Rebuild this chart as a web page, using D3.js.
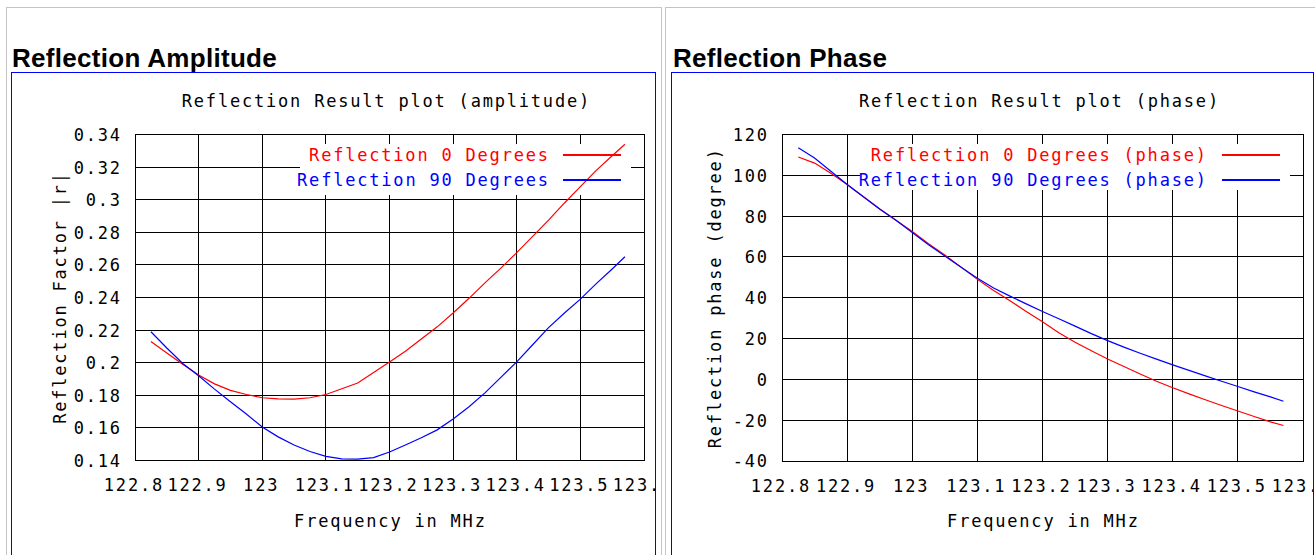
<!DOCTYPE html>
<html>
<head>
<meta charset="utf-8">
<script src="https://cdn.jsdelivr.net/npm/d3@7/dist/d3.min.js"></script>
<style>
  html, body { margin: 0; padding: 0; background: #fff; }
  svg { display: block; }
  .mono { font-family: "DejaVu Sans Mono", monospace; font-size: 17px; letter-spacing: 1.8px; fill: #000; }
  .heading { font-family: "Liberation Sans", Arial, sans-serif; font-weight: bold; font-size: 26px; letter-spacing: 0.3px; fill: #000; }
</style>
</head>
<body>
<svg id="chart" width="1315" height="555"></svg>
<script>
// ---------------- data ----------------
const freq = [122.825, 122.85, 122.875, 122.9, 122.925, 122.95, 122.975, 123.0, 123.025, 123.05,
              123.075, 123.1, 123.125, 123.15, 123.175, 123.2, 123.225, 123.25, 123.275, 123.3,
              123.325, 123.35, 123.375, 123.4, 123.425, 123.45, 123.475, 123.5, 123.525, 123.55, 123.57];

const amp0 = [0.213, 0.206, 0.199, 0.1925, 0.187, 0.183, 0.1805, 0.1785, 0.1778, 0.1776,
              0.1785, 0.1805, 0.184, 0.1875, 0.194, 0.2005, 0.207, 0.2145, 0.222, 0.2305,
              0.2395, 0.249, 0.258, 0.2675, 0.2775, 0.2875, 0.298, 0.308, 0.318, 0.327, 0.334];

const amp90 = [0.219, 0.209, 0.1995, 0.192, 0.1838, 0.176, 0.1685, 0.1605, 0.1545, 0.1495,
               0.1455, 0.1425, 0.141, 0.1408, 0.1418, 0.1452, 0.1495, 0.154, 0.1588, 0.1655,
               0.173, 0.1815, 0.191, 0.2005, 0.211, 0.2215, 0.2305, 0.239, 0.2485, 0.2575, 0.265];

const phase0 = [109, 106, 101, 95.5, 89.5, 83.5, 78, 72.5, 66.5, 61,
                55, 49, 43.5, 38.5, 33.3, 28.2, 22.8, 18.2, 14.0, 10.0,
                6.3, 2.6, -0.9, -4.1, -7.1, -10.0, -12.8, -15.5, -18.2, -20.8, -22.6];

const phase90 = [113.5, 108.5, 102, 95.5, 89.5, 83.5, 78, 72, 66, 60.5,
                 55, 49.5, 44.8, 40.8, 37.0, 33.3, 29.7, 26.1, 22.4, 19.0,
                 15.8, 12.8, 9.9, 7.1, 4.4, 1.7, -0.9, -3.5, -6.1, -8.6, -10.7];

const xTicks = [122.8, 122.9, 123.0, 123.1, 123.2, 123.3, 123.4, 123.5, 123.6];
const ampTicks = [0.14, 0.16, 0.18, 0.2, 0.22, 0.24, 0.26, 0.28, 0.3, 0.32, 0.34];
const phaseTicks = [-40, -20, 0, 20, 40, 60, 80, 100, 120];

const headings = ["Reflection Amplitude", "Reflection Phase"];
const titles = ["Reflection Result plot (amplitude)", "Reflection Result plot (phase)"];
const yLabels = ["Reflection Factor |r|", "Reflection phase (degree)"];
const xLabel = "Frequency in MHz";
const legendAmp = ["Reflection 0 Degrees", "Reflection 90 Degrees"];
const legendPhase = ["Reflection 0 Degrees (phase)", "Reflection 90 Degrees (phase)"];
const seriesColors = ["#ff0000", "#0000ff"];

// ---------------- layout ----------------
const svg = d3.select("#chart");
svg.append("rect").attr("width", 1315).attr("height", 555).attr("fill", "#fff");

const LS = 1.8; // letter spacing used in mono text

const panels = [
  {
    cellX: 6.5, cellW: 655, boxX: 11.5, boxW: 644, headX: 12,
    plot: { left: 135, right: 644, top: 134.5, bottom: 460.5 },
    yDomain: [0.14, 0.34], yTicks: ampTicks, yFmt: d => String(+d.toFixed(2)),
    series: [amp0, amp90], legend: legendAmp,
    key: { x0: 300, y1: 195, textEnd: 548, lineX0: 563, lineX1: 621, rows: [155, 180] },
    yLabelX: 60
  },
  {
    cellX: 665.5, cellW: 700, boxX: 671.5, boxW: 642, headX: 673,
    plot: { left: 782, right: 1303, top: 134.5, bottom: 461 },
    yDomain: [-40, 120], yTicks: phaseTicks, yFmt: d => String(d),
    series: [phase0, phase90], legend: legendPhase,
    key: { x0: 860, y1: 190, textEnd: 1206, lineX0: 1222, lineX1: 1280, rows: [155, 180] },
    yLabelX: 715
  }
];

panels.forEach((p, i) => {
  // cell border (gray)
  svg.append("rect").attr("x", p.cellX).attr("y", 7.5).attr("width", p.cellW).attr("height", 600)
    .attr("fill", "none").attr("stroke", "#c4c4c4").attr("stroke-width", 1);
  // heading
  svg.append("text").attr("class", "heading").attr("x", p.headX).attr("y", 67).text(headings[i]);
  // blue box
  svg.append("rect").attr("x", p.boxX).attr("y", 72.5).attr("width", p.boxW).attr("height", 600)
    .attr("fill", "#fff").attr("stroke", "#0000ff").attr("stroke-width", 1);

  const clipId = "clip" + i;
  svg.append("clipPath").attr("id", clipId).append("rect")
    .attr("x", p.boxX + 0.5).attr("y", 73).attr("width", p.boxW - 1).attr("height", 600);
  const g = svg.append("g").attr("clip-path", `url(#${clipId})`);

  const P = p.plot;
  const x = d3.scaleLinear().domain([122.8, 123.6]).range([P.left, P.right]);
  const y = d3.scaleLinear().domain(p.yDomain).range([P.bottom, P.top]);

  // grid
  const grid = g.append("g").attr("stroke", "#000").attr("stroke-width", 1).attr("shape-rendering", "crispEdges");
  grid.selectAll(".gx").data(xTicks).join("line")
    .attr("x1", d => x(d)).attr("x2", d => x(d)).attr("y1", P.top).attr("y2", P.bottom);
  grid.selectAll(".gy").data(p.yTicks).join("line")
    .attr("x1", P.left).attr("x2", P.right).attr("y1", d => y(d)).attr("y2", d => y(d));

  // key blank area
  g.append("rect").attr("x", p.key.x0).attr("y", P.top)
    .attr("width", P.right - p.key.x0).attr("height", p.key.y1 - P.top).attr("fill", "#fff");

  // tick marks (inward) on all sides
  const tk = g.append("g").attr("stroke", "#000").attr("stroke-width", 1).attr("shape-rendering", "crispEdges");
  tk.selectAll(".tt").data(xTicks).join("line")
    .attr("x1", d => x(d)).attr("x2", d => x(d)).attr("y1", P.top).attr("y2", P.top + 9);
  tk.selectAll(".tb").data(xTicks).join("line")
    .attr("x1", d => x(d)).attr("x2", d => x(d)).attr("y1", P.bottom).attr("y2", P.bottom - 9);
  tk.selectAll(".tr").data(p.yTicks).join("line")
    .attr("x1", P.right).attr("x2", P.right - 13).attr("y1", d => y(d)).attr("y2", d => y(d));
  tk.selectAll(".tl").data(p.yTicks).join("line")
    .attr("x1", P.left).attr("x2", P.left + 13).attr("y1", d => y(d)).attr("y2", d => y(d));

  // frame
  g.append("rect").attr("x", P.left).attr("y", P.top).attr("width", P.right - P.left).attr("height", P.bottom - P.top)
    .attr("fill", "none").attr("stroke", "#000").attr("stroke-width", 1).attr("shape-rendering", "crispEdges");

  // axes (labels only)
  const xAxis = g.append("g").attr("transform", `translate(0,${P.bottom})`)
    .call(d3.axisBottom(x).tickValues(xTicks).tickSize(0).tickPadding(0).tickFormat(d => String(+d.toFixed(1))));
  xAxis.select(".domain").remove();
  xAxis.selectAll("text").attr("class", "mono")
    .attr("y", 25).attr("dy", "0.35em").attr("dx", LS / 2 - 2.5).attr("fill", "#000");
  xAxis.attr("font-size", null).attr("font-family", null);

  const yAxis = g.append("g").attr("transform", `translate(${P.left},0)`)
    .call(d3.axisLeft(y).tickValues(p.yTicks).tickSize(0).tickPadding(0).tickFormat(p.yFmt));
  yAxis.select(".domain").remove();
  yAxis.selectAll("text").attr("class", "mono").attr("x", -15 + LS).attr("dy", "0.35em").attr("fill", "#000");
  yAxis.attr("font-size", null).attr("font-family", null);

  // curves
  const line = d3.line().x((d, k) => x(freq[k])).y(d => y(d));
  p.series.forEach((s, k) => {
    g.append("path").datum(s).attr("d", line).attr("fill", "none")
      .attr("stroke", seriesColors[k]).attr("stroke-width", 1.2);
  });

  // legend
  p.legend.forEach((t, k) => {
    const ry = p.key.rows[k];
    g.append("text").attr("class", "mono").attr("x", p.key.textEnd + LS).attr("y", ry)
      .attr("dy", "0.35em").attr("text-anchor", "end").style("fill", seriesColors[k]).text(t);
    g.append("line").attr("x1", p.key.lineX0).attr("x2", p.key.lineX1).attr("y1", ry).attr("y2", ry)
      .attr("stroke", seriesColors[k]).attr("stroke-width", 1.2).attr("shape-rendering", "crispEdges");
  });

  // title
  const cx = (P.left + P.right) / 2;
  g.append("text").attr("class", "mono").attr("x", cx - 4 + LS / 2).attr("y", 101).attr("dy", "0.35em")
    .attr("text-anchor", "middle").text(titles[i]);
  // x label
  g.append("text").attr("class", "mono").attr("x", cx + LS / 2).attr("y", 521).attr("dy", "0.35em")
    .attr("text-anchor", "middle").text(xLabel);
  // y label
  g.append("text").attr("class", "mono")
    .attr("transform", `translate(${p.yLabelX},${(P.top + P.bottom) / 2}) rotate(-90)`)
    .attr("dy", "0.35em").attr("text-anchor", "middle").text(yLabels[i]);
});
</script>
</body>
</html>
